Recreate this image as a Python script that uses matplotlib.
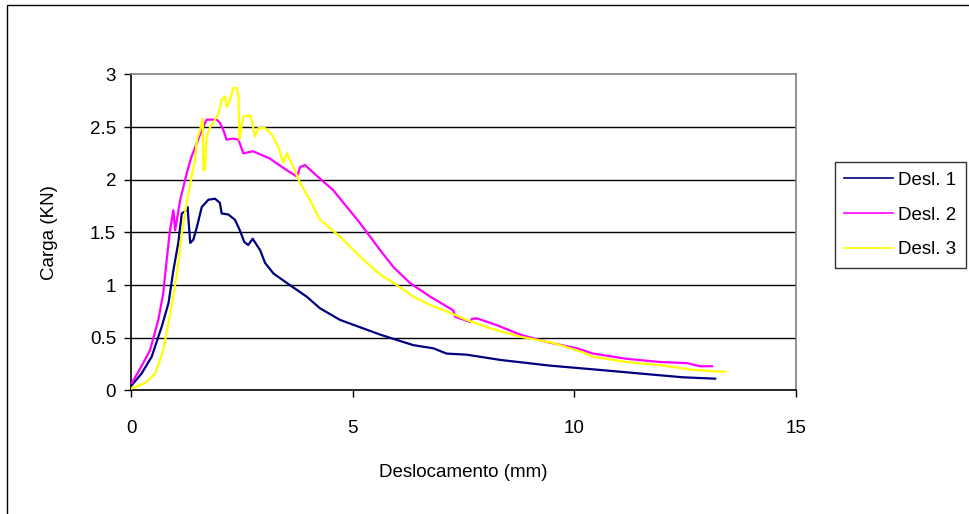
import matplotlib.pyplot as plt
from matplotlib.patches import Rectangle

plt.rcParams['font.family'] = ['Liberation Sans', 'DejaVu Sans']

# Deslocamento (mm) x carga (KN) para os tres ensaios
desl1_x = [0.01, 0.23, 0.46, 0.69, 0.84, 0.95, 1.06, 1.14, 1.25, 1.27, 1.33, 1.40,
           1.48, 1.59, 1.74, 1.89, 2.00, 2.04, 2.19, 2.34, 2.45, 2.55, 2.64, 2.74,
           2.91, 3.02, 3.21, 3.58, 3.96, 4.26, 4.71, 5.62, 5.99, 6.37, 6.82, 7.12,
           7.57, 8.10, 8.33, 9.45, 10.58, 11.86, 12.46, 13.18]
desl1_y = [0.05, 0.16, 0.32, 0.61, 0.83, 1.14, 1.40, 1.68, 1.71, 1.74, 1.40, 1.43,
           1.55, 1.74, 1.81, 1.82, 1.78, 1.68, 1.67, 1.62, 1.52, 1.41, 1.38, 1.44,
           1.33, 1.21, 1.11, 1.00, 0.89, 0.78, 0.67, 0.53, 0.48, 0.43, 0.40, 0.35,
           0.34, 0.305, 0.29, 0.236, 0.195, 0.147, 0.125, 0.112]

desl2_x = [0.01, 0.23, 0.42, 0.61, 0.72, 0.80, 0.87, 0.95, 0.99, 1.10, 1.21, 1.25,
           1.36, 1.48, 1.59, 1.70, 1.93, 2.00, 2.08, 2.15, 2.30, 2.42, 2.53, 2.75,
           3.13, 3.51, 3.74, 3.81, 3.92, 4.26, 4.56, 5.16, 5.62, 5.92, 6.29, 6.75,
           7.27, 7.31, 7.65, 7.69, 7.80, 8.25, 8.78, 9.38, 10.06, 10.43, 11.19,
           11.94, 12.54, 12.84, 13.11]
desl2_y = [0.07, 0.23, 0.38, 0.67, 0.92, 1.24, 1.51, 1.71, 1.52, 1.80, 1.99, 2.06,
           2.22, 2.35, 2.47, 2.57, 2.57, 2.54, 2.47, 2.38, 2.39, 2.38, 2.25, 2.27,
           2.20, 2.09, 2.03, 2.12, 2.14, 2.01, 1.90, 1.59, 1.33, 1.17, 1.02, 0.89,
           0.76, 0.70, 0.65, 0.68, 0.685, 0.62, 0.53, 0.46, 0.40, 0.35, 0.30,
           0.27, 0.26, 0.23, 0.23]

desl3_x = [0.01, 0.31, 0.54, 0.72, 0.91, 1.03, 1.14, 1.25, 1.36, 1.44, 1.48, 1.55,
           1.61, 1.63, 1.66, 1.70, 1.78, 1.85, 1.97, 2.04, 2.12, 2.15, 2.23, 2.30,
           2.38, 2.42, 2.44, 2.53, 2.68, 2.72, 2.79, 2.87, 3.02, 3.17, 3.32, 3.43,
           3.51, 3.66, 3.81, 4.04, 4.26, 4.71, 5.24, 5.62, 5.92, 6.37, 6.75, 7.12,
           7.57, 8.10, 8.78, 9.53, 10.14, 10.43, 11.19, 11.94, 12.69, 13.21, 13.41]
desl3_y = [0.02, 0.07, 0.16, 0.38, 0.80, 1.11, 1.49, 1.78, 2.03, 2.19, 2.38, 2.47,
           2.58, 2.09, 2.09, 2.41, 2.50, 2.54, 2.63, 2.76, 2.79, 2.69, 2.76, 2.87,
           2.87, 2.79, 2.38, 2.60, 2.61, 2.57, 2.41, 2.49, 2.49, 2.43, 2.31, 2.16,
           2.25, 2.12, 1.97, 1.80, 1.62, 1.46, 1.24, 1.10, 1.02, 0.89, 0.81, 0.75,
           0.67, 0.59, 0.51, 0.45, 0.37, 0.32, 0.27, 0.24, 0.195, 0.18, 0.18]

x_ticks = [0, 5, 10, 15]
y_ticks = [0, 0.5, 1, 1.5, 2, 2.5, 3]
y_tick_labels = ['0', '0.5', '1', '1.5', '2', '2.5', '3']

fig = plt.figure(figsize=(9.69, 5.14), dpi=100)
ax = fig.add_axes([0.1355, 0.2403, 0.6857, 0.6151])

# moldura externa do grafico
fig.patches.append(Rectangle((7 / 969, -0.1), 1.2, 1.1 - 5 / 514, transform=fig.transFigure,
                             fill=False, edgecolor='black', linewidth=1.0))

for y in y_ticks[1:-1]:
    ax.axhline(y, color='black', linewidth=1.0, zorder=1)

ax.plot(desl1_x, desl1_y, color='#000080', linewidth=1.6, label='Desl. 1', zorder=3)
ax.plot(desl2_x, desl2_y, color='#FF00FF', linewidth=1.6, label='Desl. 2', zorder=3)
ax.plot(desl3_x, desl3_y, color='#FFFF00', linewidth=1.6, label='Desl. 3', zorder=3)

ax.set_xlim(0, 15)
ax.set_ylim(0, 3)
ax.set_xticks(x_ticks)
ax.set_yticks(y_ticks)
ax.set_yticklabels(y_tick_labels)
ax.tick_params(direction='out', length=5, width=1, labelsize=13.5, color='black')
ax.tick_params(axis='x', pad=16)
ax.tick_params(axis='y', pad=6)

ax.spines['left'].set_color('black')
ax.spines['bottom'].set_color('black')
ax.spines['top'].set_color('#808080')
ax.spines['right'].set_color('#808080')
for s in ax.spines.values():
    s.set_linewidth(1.2)

ax.set_xlabel('Deslocamento (mm)', fontsize=13.5, labelpad=20)
ax.set_ylabel('Carga (KN)', fontsize=13.5, labelpad=23)

leg = ax.legend(loc='center right', bbox_to_anchor=(966 / 969, (514 - 215) / 514),
                bbox_transform=fig.transFigure,
                frameon=True, fancybox=False, fontsize=13.5, handlelength=2.6,
                handletextpad=0.3, labelspacing=0.95, borderpad=0.5, borderaxespad=0)
leg.get_frame().set_edgecolor('black')
leg.get_frame().set_linewidth(1.0)
for h in leg.get_lines():
    h.set_linewidth(1.2)

fig.savefig('out.png', dpi=100)
